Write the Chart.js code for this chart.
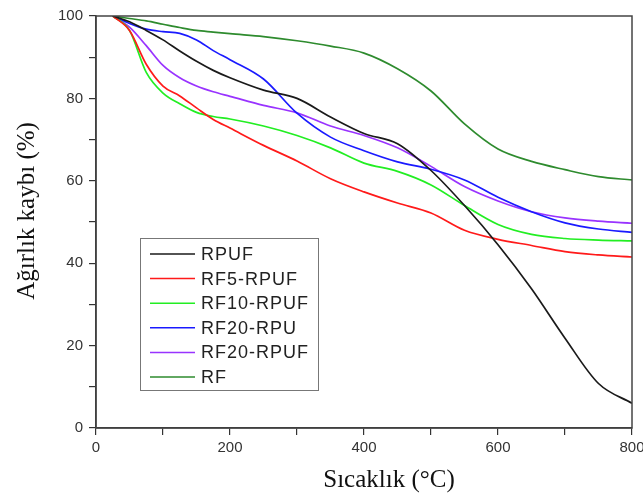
<!DOCTYPE html>
<html>
<head>
<meta charset="utf-8">
<script src="https://cdn.jsdelivr.net/npm/chart.js@4"></script>
<style>
  body { margin: 0; background: #fff; }
  canvas { display: block; }
</style>
</head>
<body>
<canvas id="tgaChart" width="643" height="499"></canvas>
<script>
// temperature grid (°C) shared by every curve
var temps = [25, 50, 75, 100, 125, 150, 175, 200, 250, 300, 350, 400, 450, 500, 550, 600, 650, 700, 750, 800];

// weight (%)
var rpuf     = [100, 98.6, 96.5, 94.2, 91.5, 89, 86.8, 85, 82, 80, 75.5, 71.5, 69, 62.5, 54, 44.5, 33.8, 21.8, 10.8, 6];
var rf5Rpuf  = [100, 96.5, 88.3, 83, 80.6, 77.7, 74.9, 72.8, 68.6, 64.8, 60.5, 57.3, 54.6, 52.2, 48, 45.8, 44.3, 42.8, 42, 41.5];
var rf10Rpuf = [100, 96.5, 86.3, 81.3, 78.7, 76.6, 75.6, 75, 73.3, 71, 68, 64.3, 62.3, 59, 54, 49.4, 47, 46, 45.6, 45.4];
var rf20Rpu  = [100, 98.2, 96.8, 96.2, 95.8, 94.2, 91.6, 89.4, 84.7, 76.4, 70.6, 67.3, 64.6, 62.8, 60.2, 56, 52.5, 49.8, 48.3, 47.5];
var rf20Rpuf = [100, 97.3, 92.8, 88, 85, 83, 81.6, 80.5, 78.3, 76.5, 73.3, 71, 68, 63.5, 58.6, 55.1, 52.5, 51, 50.2, 49.7];
var rf       = [100, 99.4, 98.8, 98, 97.2, 96.5, 96.1, 95.7, 95, 94, 92.7, 91, 87.2, 81.8, 73.8, 67.7, 64.7, 62.7, 61, 60.2];

var seriesNames = ['RPUF', 'RF5-RPUF', 'RF10-RPUF', 'RF20-RPU', 'RF20-RPUF', 'RF'];
var seriesValues = [rpuf, rf5Rpuf, rf10Rpuf, rf20Rpu, rf20Rpuf, rf];
var seriesColors = ['#1a1a1a', '#ff1a1a', '#22ee22', '#1a1aff', '#9933ff', '#2e8b2e'];

var xTitle = 'Sıcaklık (°C)';
var yTitle = 'Ağırlık kaybı (%)';

function toPoints(values) {
    return values.map(function(v, i) { return { x: temps[i], y: v }; });
}

var datasets = seriesNames.map(function(name, i) {
    return {
        label: name,
        data: toPoints(seriesValues[i]),
        borderColor: seriesColors[i],
        backgroundColor: seriesColors[i],
        borderWidth: 1.7,
        pointRadius: 0,
        cubicInterpolationMode: 'monotone',
        fill: false
    };
});

// frame, axis titles and the boxed legend
var decor = {
    id: 'decor',
    afterDraw: function(chart) {
        var ctx = chart.ctx;
        var a = chart.chartArea;
        ctx.save();
        ctx.strokeStyle = '#444';
        ctx.lineWidth = 1.5;
        ctx.strokeRect(a.left, a.top, a.right - a.left, a.bottom - a.top);

        ctx.fillStyle = '#111';
        ctx.font = '25px "Liberation Serif", "Times New Roman", serif';
        ctx.textAlign = 'center';
        ctx.textBaseline = 'middle';
        ctx.fillText(xTitle, 389, 480);
        ctx.translate(27, 211);
        ctx.rotate(-Math.PI / 2);
        ctx.fillText(yTitle, 0, 0);
        ctx.restore();

        // legend
        ctx.save();
        var bx = 140, by = 238, bw = 178, bh = 152;
        ctx.fillStyle = '#fff';
        ctx.fillRect(bx, by, bw, bh);
        ctx.strokeStyle = '#777';
        ctx.lineWidth = 1;
        ctx.strokeRect(bx + 0.5, by + 0.5, bw, bh);
        ctx.font = '18px "Liberation Sans", Arial, sans-serif';
        ctx.textAlign = 'left';
        ctx.textBaseline = 'middle';
        if ('letterSpacing' in ctx) ctx.letterSpacing = '1px';
        chart.data.datasets.forEach(function(ds, i) {
            var y = 254 + i * 24.6;
            ctx.strokeStyle = ds.borderColor;
            ctx.lineWidth = 1.5;
            ctx.beginPath();
            ctx.moveTo(150, y);
            ctx.lineTo(195, y);
            ctx.stroke();
            ctx.fillStyle = '#222';
            ctx.fillText(ds.label, 201, y + 1);
        });
        ctx.restore();
    }
};

var tickFont = { family: '"Liberation Sans", Arial, sans-serif', size: 15 };

new Chart(document.getElementById('tgaChart'), {
    type: 'line',
    data: { datasets: datasets },
    options: {
        responsive: false,
        animation: false,
        layout: { padding: { top: 16, right: 11, left: 0, bottom: 0 } },
        plugins: {
            legend: { display: false },
            tooltip: { enabled: false }
        },
        scales: {
            x: {
                type: 'linear',
                min: 0,
                max: 800,
                ticks: {
                    stepSize: 100,
                    autoSkip: false,
                    maxRotation: 0,
                    padding: 4,
                    color: '#333',
                    font: tickFont,
                    callback: function(v) { return v % 200 === 0 ? v : ''; }
                },
                grid: { drawOnChartArea: false, drawTicks: true, tickLength: 7, color: '#333', lineWidth: 1.2 },
                border: { color: '#333', width: 1.5 },
                afterFit: function(scale) {
                    scale.height = 71;
                    scale.paddingLeft = 0;
                    scale.paddingRight = 0;
                }
            },
            y: {
                min: 0,
                max: 100,
                ticks: {
                    stepSize: 10,
                    autoSkip: false,
                    padding: 6,
                    color: '#333',
                    font: tickFont,
                    callback: function(v) { return v % 20 === 0 ? v : ''; }
                },
                grid: { drawOnChartArea: false, drawTicks: true, tickLength: 7, color: '#333', lineWidth: 1.2 },
                border: { color: '#333', width: 1.5 },
                afterFit: function(scale) {
                    scale.width = 96;
                    scale.paddingTop = 0;
                    scale.paddingBottom = 0;
                }
            }
        }
    },
    plugins: [decor]
});
</script>
</body>
</html>
